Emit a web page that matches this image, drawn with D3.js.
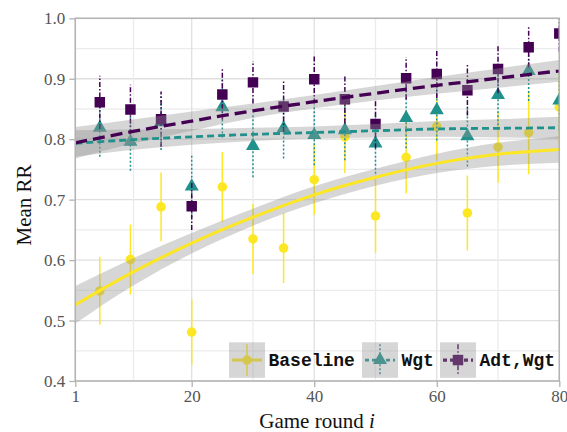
<!DOCTYPE html>
<html><head><meta charset="utf-8">
<script src="https://cdn.jsdelivr.net/npm/d3@7"></script>
<style>body{margin:0;background:#fff}svg{display:block}
.serif{font-family:"Liberation Serif","Times New Roman",Times,serif}
.mono{font-family:"Liberation Mono","Courier New",monospace;font-weight:bold}</style>
</head><body><svg id="c" width="567" height="432"></svg>
<script>
// ---- data ----
const rounds = [5,10,15,20,25,30,35,40,45,50,55,60,65,70,75,80];
const baselineMean = [0.549,0.601,0.688,0.481,0.721,0.635,0.620,0.733,0.804,0.673,0.770,0.821,0.678,0.787,0.811,0.853];
const baselineErr  = [0.056,0.058,0.057,0.054,0.058,0.058,0.058,0.058,0.060,0.061,0.060,0.055,0.062,0.059,0.069,0.060];
const wgtMean = [0.819,0.796,0.828,0.722,0.853,0.789,0.818,0.807,0.815,0.793,0.835,0.848,0.805,0.873,0.913,0.864];
const wgtErr  = [0.048,0.048,0.046,0.052,0.050,0.052,0.050,0.050,0.050,0.050,0.050,0.050,0.050,0.050,0.050,0.050];
const adtMean = [0.861,0.849,0.833,0.689,0.874,0.894,0.854,0.899,0.866,0.825,0.901,0.908,0.881,0.916,0.952,0.975];
const adtErr  = [0.044,0.041,0.046,0.039,0.042,0.035,0.042,0.040,0.040,0.040,0.035,0.040,0.042,0.040,0.033,0.030];
const trendX = [1,10,20,30,40,50,60,70,80];
const baselineFit = [0.526,0.578,0.628,0.671,0.708,0.737,0.760,0.775,0.783];
const baselineBand = [0.031,0.023,0.017,0.014,0.014,0.014,0.016,0.019,0.022];
const wgtFit = [0.793,0.799,0.804,0.808,0.811,0.814,0.817,0.818,0.819];
const wgtBand = [0.022,0.017,0.013,0.011,0.010,0.011,0.013,0.015,0.018];
const adtFit = [0.794,0.812,0.830,0.847,0.862,0.876,0.889,0.901,0.913];
const adtBand = [0.026,0.020,0.016,0.012,0.011,0.012,0.014,0.016,0.018];
const xTicks = [1,20,40,60,80];
const yTicks = [0.4,0.5,0.6,0.7,0.8,0.9,1.0];
const legendLabels = ["Baseline","Wgt","Adt,Wgt"];

// ---- layout ----
const L=75.3, R=559.3, T=18.3, B=381;
const svg = d3.select("#c");
const x = d3.scaleLinear().domain([1,80]).range([L,R]);
const y = d3.scaleLinear().domain([0.4,1.0]).range([B,T]);

const series = [
  {name:legendLabels[0], mean:baselineMean, err:baselineErr, fit:baselineFit, band:baselineBand,
   color:"#fde725", marker:"circle", errDash:null, lineDash:null, lw:3},
  {name:legendLabels[1], mean:wgtMean, err:wgtErr, fit:wgtFit, band:wgtBand,
   color:"#21918c", marker:"triangle", errDash:"2,2", lineDash:"7,4", lw:2.8},
  {name:legendLabels[2], mean:adtMean, err:adtErr, fit:adtFit, band:adtBand,
   color:"#440154", marker:"square", errDash:"5,2,1.5,2", lineDash:"12,6", lw:3.3}
];

// grid
const g = svg.append("g");
const minorY = d3.range(0.45,1.0,0.1);
g.selectAll(".gyM").data(minorY).join("line").attr("x1",L).attr("x2",R)
  .attr("y1",d=>y(d)).attr("y2",d=>y(d)).attr("stroke","#ececec").attr("stroke-width",1.3);
g.selectAll(".gy").data(yTicks).join("line").attr("x1",L).attr("x2",R)
  .attr("y1",d=>y(d)).attr("y2",d=>y(d)).attr("stroke","#e0e0e0").attr("stroke-width",1.3);
const minorX = [10.5,30,50,70];
g.selectAll(".gxM").data(minorX).join("line").attr("y1",T).attr("y2",B)
  .attr("x1",d=>x(d)).attr("x2",d=>x(d)).attr("stroke","#ececec").attr("stroke-width",1.3);
g.selectAll(".gx").data(xTicks).join("line").attr("y1",T).attr("y2",B)
  .attr("x1",d=>x(d)).attr("x2",d=>x(d)).attr("stroke","#e0e0e0").attr("stroke-width",1.3);

svg.append("clipPath").attr("id","clip").append("rect").attr("x",L).attr("y",T).attr("width",R-L).attr("height",B-T);
const plot = svg.append("g").attr("clip-path","url(#clip)");

const sym = {circle:d3.symbol().type(d3.symbolCircle).size(72),
             triangle:d3.symbol().type(d3.symbolTriangle).size(85),
             square:d3.symbol().type(d3.symbolSquare).size(110)};

function drawPoints(s, layer){
  const gg = layer.append("g");
  rounds.forEach((r,i)=>{
    gg.append("line").attr("x1",x(r)).attr("x2",x(r))
      .attr("y1",y(s.mean[i]-s.err[i])).attr("y2",y(s.mean[i]+s.err[i]))
      .attr("stroke",s.color).attr("stroke-width",1.5).attr("stroke-dasharray",s.errDash);
  });
  rounds.forEach((r,i)=>{
    gg.append("path").attr("d",sym[s.marker]()).attr("transform",`translate(${x(r)},${y(s.mean[i])})`)
      .attr("fill",s.color);
  });
}
series.forEach(s=>drawPoints(s, plot));

// bands
const area = d3.area().x((d,i)=>x(trendX[i])).y0(d=>y(d[0]-d[1])).y1(d=>y(d[0]+d[1])).curve(d3.curveMonotoneX);
series.forEach(s=>{
  plot.append("path").datum(s.fit.map((v,i)=>[v,s.band[i]])).attr("d",area)
    .attr("fill","#929292").attr("fill-opacity",0.38);
});
// fits
const line = d3.line().x((d,i)=>x(trendX[i])).y(d=>y(d)).curve(d3.curveMonotoneX);
series.forEach(s=>{
  plot.append("path").datum(s.fit).attr("d",line).attr("fill","none")
    .attr("stroke",s.color).attr("stroke-width",s.lw).attr("stroke-dasharray",s.lineDash);
});

// frame
svg.append("rect").attr("x",L).attr("y",T).attr("width",R-L).attr("height",B-T)
  .attr("fill","none").attr("stroke","#b3b3b3").attr("stroke-width",1.5);

// axes
const yAxis = svg.append("g").attr("transform",`translate(${L},0)`)
  .call(d3.axisLeft(y).tickValues(yTicks).tickFormat(d3.format(".1f")).tickSize(6).tickPadding(4));
const xAxis = svg.append("g").attr("transform",`translate(0,${B})`)
  .call(d3.axisBottom(x).tickValues(xTicks).tickSize(6).tickPadding(3));
[yAxis,xAxis].forEach(a=>{
  a.attr("font-family",null).attr("font-size",null);
  a.select(".domain").remove();
  a.selectAll(".tick line").attr("stroke","#b3b3b3").attr("stroke-width",1.3);
  a.selectAll("text").attr("class","serif").attr("fill","#555").style("font-size","17px");
});

svg.append("text").attr("class","serif").attr("transform","translate(31,205) rotate(-90)").attr("text-anchor","middle")
  .style("font-size","21px").attr("fill","#111").text("Mean RR");
const xt = svg.append("text").attr("class","serif").attr("x",317).attr("y",428).attr("text-anchor","middle")
  .style("font-size","21px").attr("fill","#111");
xt.append("tspan").text("Game round ");
xt.append("tspan").attr("font-style","italic").text("i");

// legend
const legX = [229,362,440];
const legG = svg.append("g");
series.forEach((s,k)=>{
  const bx = legX[k], by = 342.3, w = 36, h = 35.5, cx = bx+w/2, cy = by+h/2;
  const lg = legG.append("g");
  lg.append("line").attr("x1",bx+3).attr("x2",bx+w-3).attr("y1",cy).attr("y2",cy)
    .attr("stroke",s.color).attr("stroke-width",s.lw).attr("stroke-dasharray",s.lineDash?"4,3":null);
  lg.append("line").attr("x1",cx).attr("x2",cx).attr("y1",by+2).attr("y2",by+h-2)
    .attr("stroke",s.color).attr("stroke-width",1.5).attr("stroke-dasharray",s.errDash);
  lg.append("path").attr("d",sym[s.marker]()).attr("transform",`translate(${cx},${cy})`).attr("fill",s.color);
  lg.append("rect").attr("x",bx).attr("y",by).attr("width",w).attr("height",h)
    .attr("fill","#929292").attr("fill-opacity",0.38);
  lg.append("text").attr("class","mono").attr("x",bx+w+3.5).attr("y",366)
    .style("font-size","18px").attr("fill","#111").text(s.name);
});
</script></body></html>
